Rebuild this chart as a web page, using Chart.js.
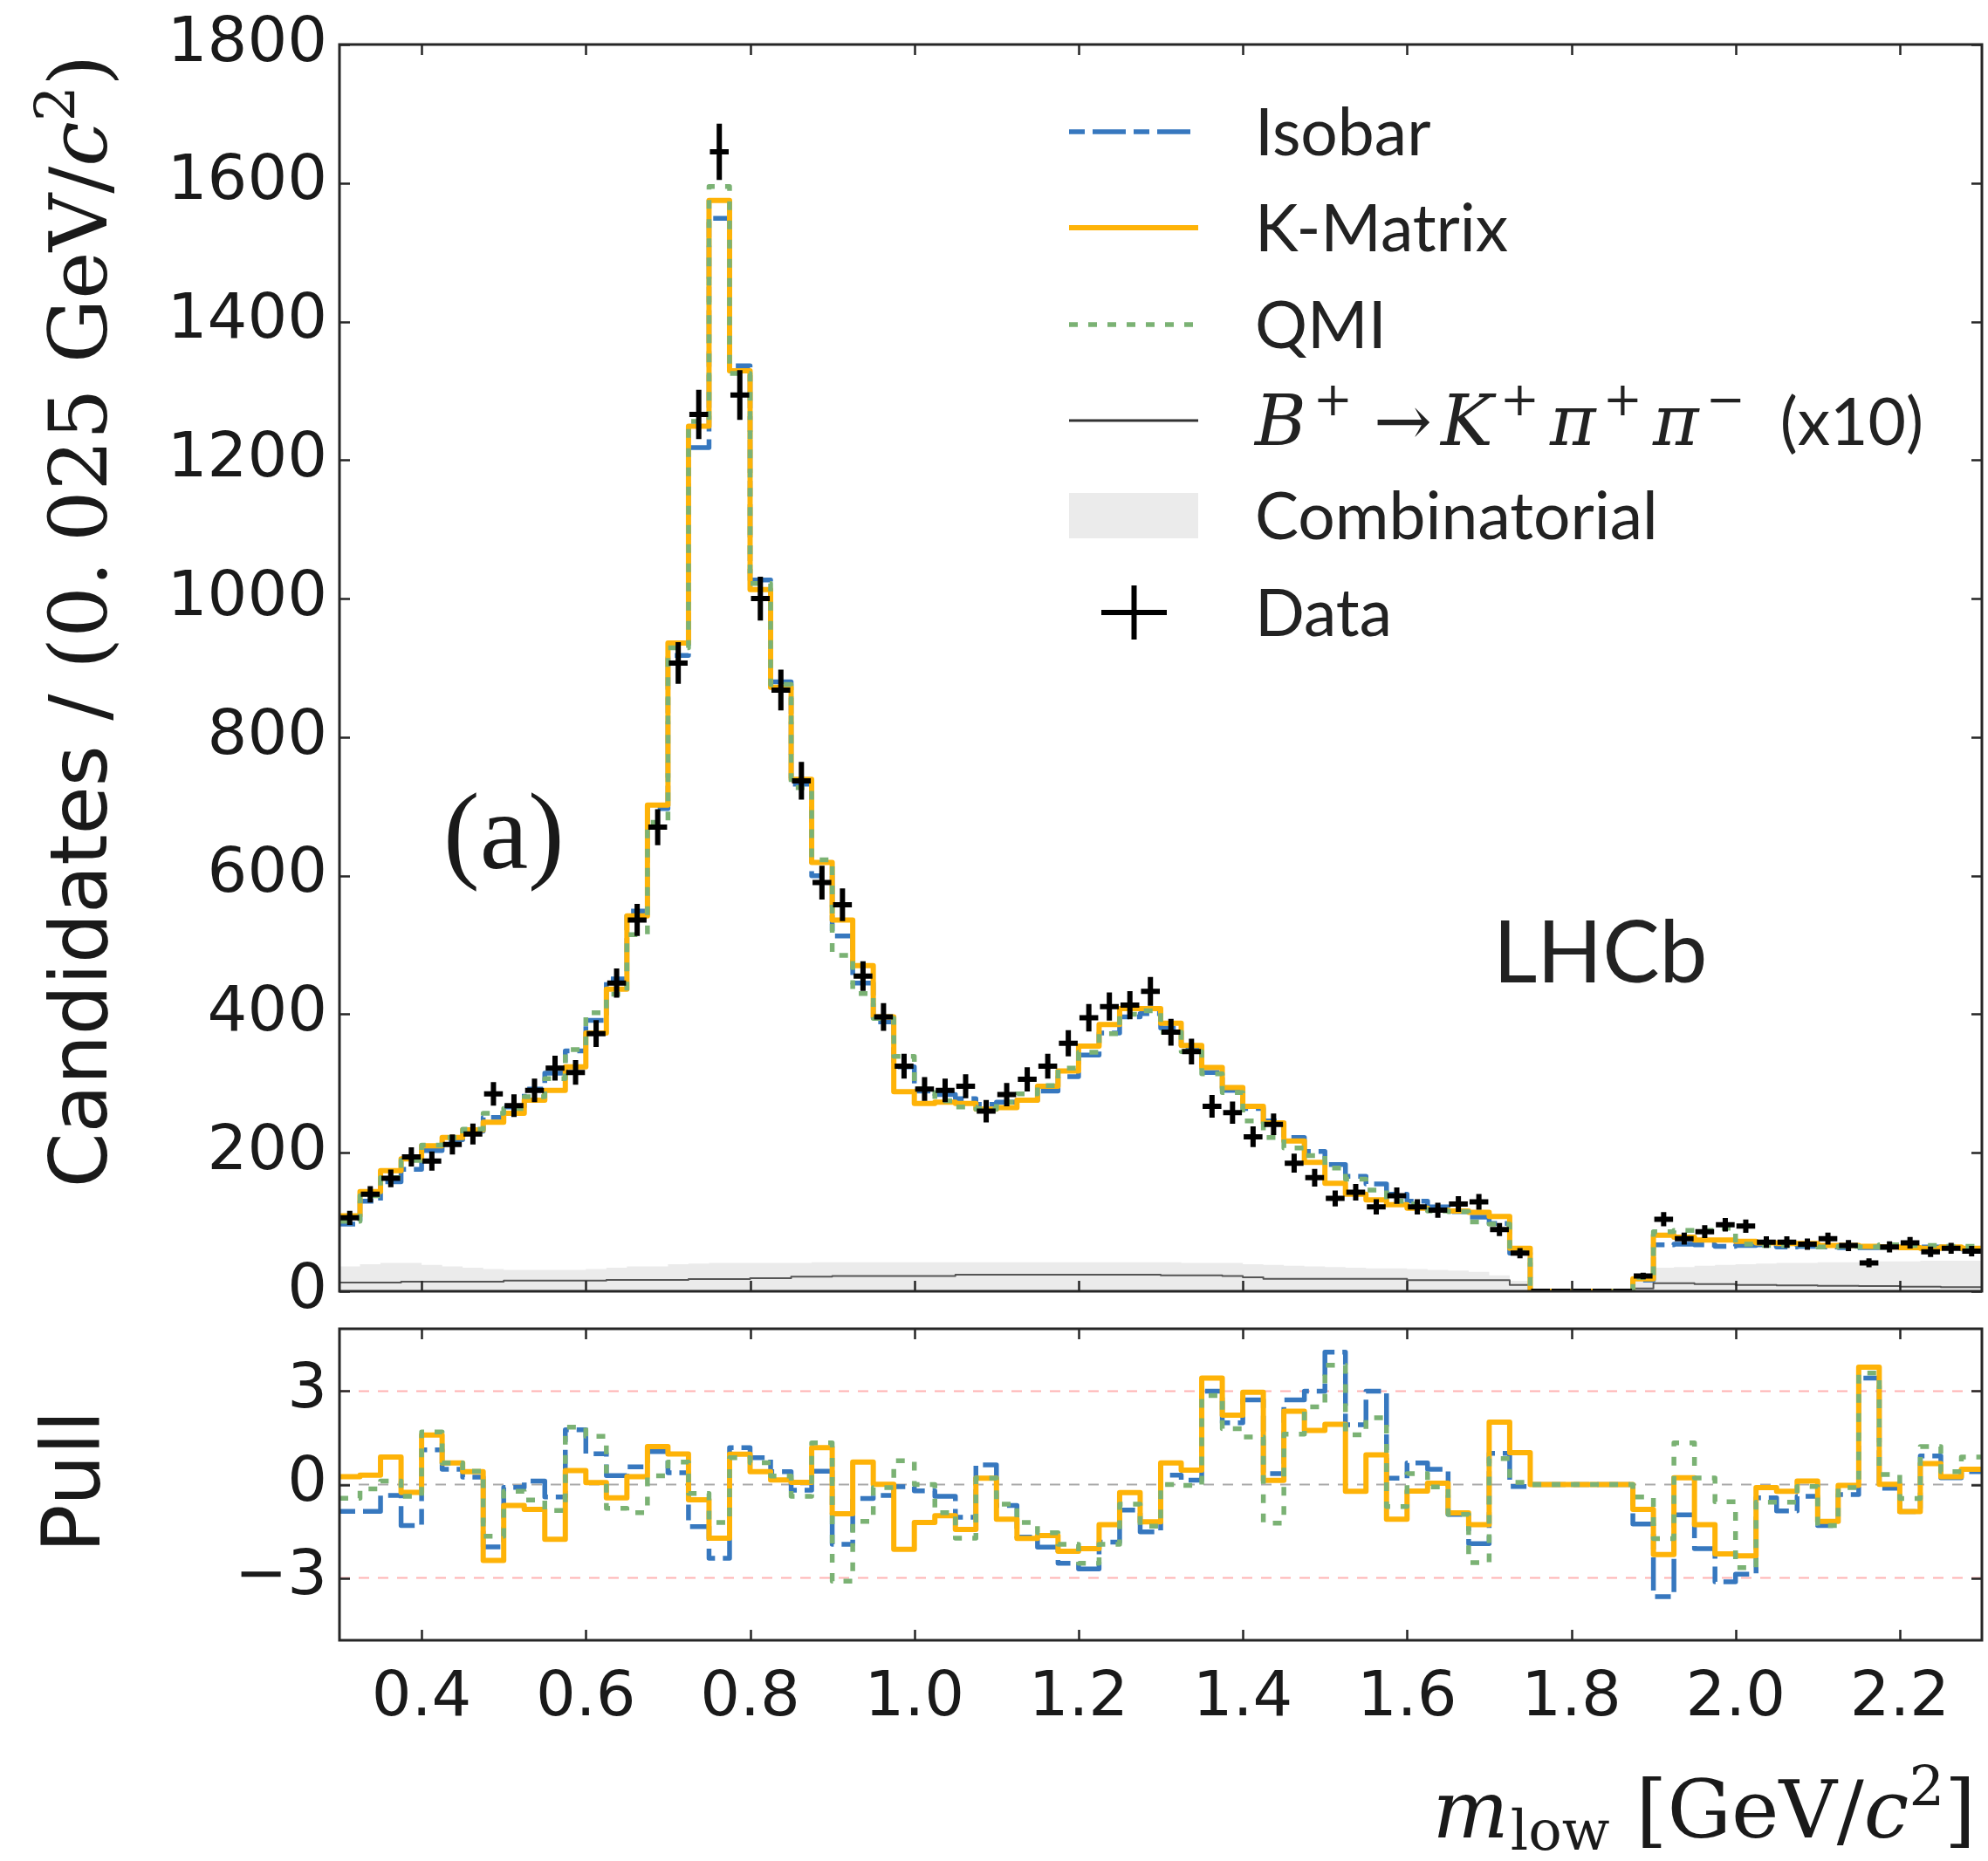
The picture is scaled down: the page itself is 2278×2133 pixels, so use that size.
<!DOCTYPE html>
<html>
<head>
<meta charset="utf-8">
<script src="https://cdn.jsdelivr.net/npm/chart.js@4.4.1/dist/chart.umd.min.js"></script>
<style>
  html, body { margin: 0; padding: 0; background: #fff; }
  #wrap { position: relative; width: 2278px; height: 2133px; }
  #mainChart { position: absolute; left: 0; top: 0; }
  #pullChart { position: absolute; left: 0; top: 1500px; }
</style>
</head>
<body>
<div id="wrap">
  <canvas id="mainChart" width="2278" height="1500"></canvas>
  <canvas id="pullChart" width="2278" height="633"></canvas>
</div>
<script>
(function () {
    'use strict';

    // binning of m_low
    var binLow = 0.3, binWidth = 0.025;

    var dataCounts = [106, 140, 163, 194, 188, 212, 227, 285, 268, 290,
        322, 316, 372, 445, 536, 670, 907, 1266, 1645, 1294,
        1000, 868, 737, 590, 558, 455, 396, 325, 292, 290,
        296, 260, 284, 306, 325, 358, 395, 411, 413, 433,
        374, 346, 267, 258, 223, 241, 185, 164, 134, 143,
        122, 138, 122, 117, 126, 129, 89, 55, 0, 0,
        0, 0, 0, 22, 104, 76, 86, 96, 94, 71,
        71, 68, 76, 66, 41, 64, 70, 57, 62, 58];

    var kmatrixModel = [109, 144, 174, 191, 210, 222, 233, 244, 257, 276,
        290, 324, 373, 436, 542, 702, 936, 1249, 1575, 1329,
        1013, 872, 739, 619, 536, 470, 396, 288, 271, 273,
        271, 263, 265, 276, 296, 318, 354, 385, 408, 408,
        387, 355, 323, 294, 267, 243, 217, 186, 156, 140,
        132, 125, 120, 117, 116, 114, 108, 62, 0, 0,
        0, 0, 0, 18, 81, 78, 74, 74, 72, 70,
        69, 69, 66, 66, 65, 64, 63, 62, 64, 62];

    var isobarModel = [97, 130, 158, 176, 203, 219, 231, 251, 266, 292,
        315, 347, 391, 451, 549, 697, 918, 1218, 1549, 1336,
        1027, 880, 732, 600, 513, 445, 389, 324, 289, 284,
        278, 270, 273, 276, 289, 310, 341, 373, 396, 401,
        380, 349, 316, 290, 264, 246, 222, 202, 183, 166,
        155, 140, 130, 122, 115, 107, 98, 55, 0, 0,
        0, 0, 0, 16, 67, 68, 67, 65, 66, 67,
        64, 65, 64, 63, 63, 63, 63, 64, 64, 61];

    var qmiModel = [101, 138, 164, 189, 211, 222, 234, 257, 264, 281,
        307, 349, 402, 429, 515, 677, 929, 1256, 1595, 1325,
        1022, 876, 727, 623, 485, 430, 394, 339, 292, 275,
        266, 263, 273, 285, 297, 322, 345, 372, 400, 405,
        374, 346, 314, 287, 246, 222, 207, 196, 178, 162,
        146, 130, 126, 116, 115, 100, 97, 56, 0, 0,
        0, 0, 0, 20, 86, 88, 88, 91, 68, 66,
        66, 67, 64, 65, 64, 67, 66, 66, 65, 65];

    // B+ -> K+ pi+ pi- background (x10)
    var bkkBackground = [12.5, 12.5, 12.5, 14, 14, 14, 14, 14, 15.5, 15.5,
        15.5, 15.5, 15.5, 16.5, 16.5, 16.5, 16.5, 17.5, 17.5, 17.5,
        19, 19, 21, 21, 22, 22, 22, 22, 22, 22,
        24, 24, 24, 24, 24, 24, 24, 24, 24, 24,
        23, 23, 23, 22, 20, 18, 18, 18, 18, 18,
        18, 18, 16, 16, 16, 16, 16, 9, 0, 0,
        0, 0, 0, 4, 11.7, 11.7, 10.5, 10.5, 9, 9,
        8.4, 8.4, 8, 8, 7.5, 7.5, 6.7, 6.7, 6, 6];

    var combinatorial = [36, 39, 41, 41, 38, 36, 34, 32, 31, 31,
        31, 31, 32, 34, 36, 36, 39, 40, 41, 41,
        41, 41, 41, 42, 42, 42, 42, 42, 42, 42,
        42, 42, 42, 42, 42, 42, 42, 42, 42, 42,
        42, 41, 41, 41, 39, 38, 37, 36, 35, 34,
        33, 33, 32, 31, 30, 28, 23, 15, 0, 0,
        0, 0, 0, 15, 34, 35, 37, 38, 39, 40,
        41, 41, 42, 42, 42, 43, 43, 44, 44, 44];

    var kmatrixPull = [0.25, 0.3, 0.88, -0.25, 1.59, 0.69, 0.41, -2.44, -0.67, -0.8,
        -1.76, 0.45, 0.06, -0.43, 0.25, 1.22, 0.98, -0.49, -1.72, 0.97,
        0.41, 0.15, 0.07, 1.18, -0.94, 0.72, 0.01, -2.08, -1.22, -1.0,
        -1.44, 0.2, -1.11, -1.73, -1.64, -2.14, -2.06, -1.29, -0.26, -1.2,
        0.69, 0.46, 3.42, 2.23, 2.96, 0.13, 2.35, 1.74, 1.93, -0.22,
        0.95, -1.11, -0.21, 0.04, -0.91, -1.29, 2.0, 1.02, 0, 0,
        0, 0, 0, -0.8, -2.25, 0.22, -1.29, -2.23, -2.29, -0.1,
        -0.22, 0.11, -1.18, -0.03, 3.77, 0.01, -0.87, 0.67, 0.25, 0.49];

    var isobarPull = [-0.86, -0.86, -0.35, -1.32, 1.11, 0.49, 0.24, -2.0, -0.09, 0.11,
        -0.4, 1.76, 0.99, 0.29, 0.57, 1.06, 0.38, -1.35, -2.37, 1.18,
        0.86, 0.41, -0.18, 0.43, -1.92, -0.45, -0.35, -0.07, -0.2, -0.38,
        -1.05, 0.63, -0.67, -1.69, -2.01, -2.53, -2.71, -1.85, -0.82, -1.52,
        0.3, 0.14, 3.0, 1.98, 2.72, 0.35, 2.72, 3.0, 4.25, 1.92,
        3.0, 0.2, 0.69, 0.49, -0.96, -1.9, 1.0, -0.06, 0, 0,
        0, 0, 0, -1.27, -3.6, -0.97, -2.06, -3.12, -2.88, -0.43,
        -0.85, -0.38, -1.32, -0.32, 3.42, -0.12, -0.87, 0.92, 0.22, 0.41];

    var qmiPull = [-0.44, -0.14, 0.11, -0.38, 1.69, 0.69, 0.43, -1.66, -0.22, -0.5,
        -0.83, 1.84, 1.55, -0.76, -0.9, 0.28, 0.72, -0.29, -1.22, 0.86,
        0.7, 0.27, -0.38, 1.34, -3.1, -1.18, -0.1, 0.76, 0.0, -0.9,
        -1.72, 0.2, -0.63, -1.22, -1.55, -1.92, -2.53, -1.92, -0.63, -1.34,
        0.0, -0.03, 2.86, 1.79, 1.53, -1.24, 1.62, 2.49, 3.83, 1.6,
        2.14, -0.71, 0.35, -0.08, -0.96, -2.51, 0.83, 0.07, 0, 0,
        0, 0, 0, -0.4, -1.74, 1.34, 0.21, -0.55, -2.67, -0.57,
        -0.57, -0.06, -1.32, -0.1, 3.58, 0.32, -0.45, 1.22, 0.41, 0.88];

    var xTicks = [0.4, 0.6, 0.8, 1.0, 1.2, 1.4, 1.6, 1.8, 2.0, 2.2];
    var yTicksMain = [0, 200, 400, 600, 800, 1000, 1200, 1400, 1600, 1800];
    var yTicksPull = [-3, 0, 3];
    var pullLimitLines = [-3, 3];

    var COLORS = {
        isobar: '#3778bf',
        kmatrix: '#feb308',
        qmi: '#7bb274',
        bkk: '#555555',
        comb: '#ebebeb',
        axis: '#262626'
    };
    var SANS = '"DejaVu Sans"';
    var SERIF = '"DejaVu Serif"';
    var LEG = 'Lato';

    var nBins = dataCounts.length;
    var xEdges = [];
    for (var i = 0; i <= nBins; i++) xEdges.push(+(binLow + i * binWidth).toFixed(4));

    function stepPoints(vals) {
        var pts = vals.map(function (v, k) { return { x: xEdges[k], y: v }; });
        pts.push({ x: xEdges[vals.length], y: vals[vals.length - 1] });
        return pts;
    }

    function lineSet(label, vals, color, width, dash, order) {
        return {
            label: label,
            data: stepPoints(vals),
            borderColor: color,
            borderWidth: width,
            borderDash: dash,
            borderJoinStyle: 'round',
            stepped: true,
            pointRadius: 0,
            fill: false,
            order: order
        };
    }

    // draw a sequence of text runs with different fonts on one baseline
    function drawRuns(ctx, x, y, runs) {
        var cx = x;
        runs.forEach(function (r) {
            ctx.font = r.font;
            ctx.fillText(r.text, cx, y + (r.dy || 0));
            cx += ctx.measureText(r.text).width + (r.gap || 0);
        });
        return cx - x;
    }
    function runsWidth(ctx, runs) {
        var w = 0;
        runs.forEach(function (r) {
            ctx.font = r.font;
            w += ctx.measureText(r.text).width + (r.gap || 0);
        });
        return w;
    }

    // frame round the plot area and inward tick marks on all four sides
    var frameTicksPlugin = {
        id: 'frameTicks',
        afterDraw: function (chart, args, opts) {
            var ctx = chart.ctx, a = chart.chartArea;
            var xs = chart.scales.x, ys = chart.scales.y;
            var len = 12;
            ctx.save();
            ctx.strokeStyle = COLORS.axis;
            ctx.lineWidth = 2.5;
            ctx.beginPath();
            opts.xTicks.forEach(function (v) {
                var px = Math.round(xs.getPixelForValue(v)) + 0.5;
                ctx.moveTo(px, a.bottom); ctx.lineTo(px, a.bottom - len);
                ctx.moveTo(px, a.top); ctx.lineTo(px, a.top + len);
            });
            opts.yTicks.forEach(function (v) {
                var py = Math.round(ys.getPixelForValue(v)) + 0.5;
                ctx.moveTo(a.left, py); ctx.lineTo(a.left + len, py);
                ctx.moveTo(a.right, py); ctx.lineTo(a.right - len, py);
            });
            ctx.stroke();
            ctx.lineWidth = 3;
            ctx.strokeRect(a.left, a.top, a.right - a.left, a.bottom - a.top);
            ctx.restore();
        }
    };

    var dataCrossPlugin = {
        id: 'dataCrosses',
        afterDatasetsDraw: function (chart) {
            var ctx = chart.ctx, a = chart.chartArea;
            var xs = chart.scales.x, ys = chart.scales.y;
            ctx.save();
            ctx.beginPath();
            ctx.rect(a.left, a.top - 40, a.right - a.left, a.bottom - a.top + 40);
            ctx.clip();
            ctx.strokeStyle = '#000';
            ctx.lineWidth = 6;
            ctx.lineCap = 'butt';
            dataCounts.forEach(function (n, k) {
                var lo = xEdges[k], hi = xEdges[k + 1];
                var err = Math.sqrt(n);
                var px = xs.getPixelForValue((lo + hi) / 2);
                var py = ys.getPixelForValue(n);
                ctx.beginPath();
                ctx.moveTo(xs.getPixelForValue(lo) + 1, py);
                ctx.lineTo(xs.getPixelForValue(hi) - 1, py);
                if (err > 0) {
                    ctx.moveTo(px, ys.getPixelForValue(n - err));
                    ctx.lineTo(px, ys.getPixelForValue(n + err));
                }
                ctx.stroke();
            });
            ctx.restore();
        }
    };

    var mainTextPlugin = {
        id: 'mainText',
        afterDraw: function (chart) {
            var ctx = chart.ctx;
            var byLabel = {};
            chart.data.datasets.forEach(function (d) { byLabel[d.label] = d; });
            ctx.save();
            ctx.fillStyle = '#1a1a1a';
            ctx.textBaseline = 'alphabetic';
            ctx.textAlign = 'left';

            // y title
            var yRuns = [
                { text: 'Candidates / ', font: '90px ' + SANS },
                { text: '(0.', font: '92px ' + SERIF, gap: 22 },
                { text: '025 GeV/', font: '92px ' + SERIF },
                { text: 'c', font: 'italic 92px ' + SERIF },
                { text: '2', font: '64px ' + SERIF, dy: -36 },
                { text: ')', font: '92px ' + SERIF }
            ];
            var wy = runsWidth(ctx, yRuns);
            ctx.save();
            ctx.translate(122, 712 + wy / 2);
            ctx.rotate(-Math.PI / 2);
            drawRuns(ctx, 0, 0, yRuns);
            ctx.restore();

            // (a) and LHCb labels
            ctx.font = '125px "Liberation Serif"';
            ctx.fillText('(a)', 508, 995);
            ctx.fillStyle = '#222222';
            ctx.font = '98px ' + LEG;
            ctx.fillText('LHCb', 1711, 1126);

            // legend
            var lx0 = 1225, lx1 = 1373, tx = 1438;
            var rows = [151, 261, 372, 482, 591, 702];
            var lineKeys = ['Isobar', 'K-Matrix', 'QMI', 'BKK'];
            ctx.lineCap = 'butt';
            lineKeys.forEach(function (key, k) {
                var d = byLabel[key];
                ctx.save();
                ctx.strokeStyle = key === 'BKK' ? '#333333' : d.borderColor;
                ctx.lineWidth = key === 'BKK' ? 3 : d.borderWidth;
                ctx.setLineDash(d.borderDash || []);
                ctx.beginPath();
                ctx.moveTo(lx0, rows[k]); ctx.lineTo(lx1, rows[k]);
                ctx.stroke();
                ctx.restore();
            });
            ctx.fillStyle = COLORS.comb;
            ctx.fillRect(lx0, rows[4] - 26, lx1 - lx0, 52);
            ctx.strokeStyle = '#000';
            ctx.lineWidth = 6;
            ctx.beginPath();
            ctx.moveTo(1262, rows[5]); ctx.lineTo(1337, rows[5]);
            ctx.moveTo(1299.5, rows[5] - 31); ctx.lineTo(1299.5, rows[5] + 31);
            ctx.stroke();

            ctx.fillStyle = '#222222';
            var lf = '75px ' + LEG;
            ctx.font = lf;
            ctx.fillText('Isobar', tx, rows[0] + 27);
            ctx.fillText('K-Matrix', tx, rows[1] + 27);
            ctx.fillText('QMI', tx, rows[2] + 27);
            ctx.fillText('Combinatorial', tx, rows[4] + 27);
            ctx.fillText('Data', tx, rows[5] + 27);
            var mi = 'italic 80px ' + SERIF, sup = '54px ' + SERIF, rm = '80px ' + SERIF;
            drawRuns(ctx, tx, rows[3] + 28, [
                { text: 'B', font: mi, gap: 8 },
                { text: '+', font: sup, dy: -34, gap: 24 },
                { text: '\u2192', font: rm, gap: 10 },
                { text: 'K', font: mi, gap: 8 },
                { text: '+', font: sup, dy: -34, gap: 12 },
                { text: '\u03c0', font: mi, gap: 8 },
                { text: '+', font: sup, dy: -34, gap: 12 },
                { text: '\u03c0', font: mi, gap: 8 },
                { text: '\u2212', font: sup, dy: -34, gap: 40 },
                { text: '(x10)', font: lf }
            ]);
            ctx.restore();
        }
    };

    var pullTextPlugin = {
        id: 'pullText',
        beforeDatasetsDraw: function (chart) {
            var ctx = chart.ctx, a = chart.chartArea, ys = chart.scales.y;
            ctx.save();
            ctx.lineWidth = 2;
            ctx.setLineDash([12, 10]);
            ctx.strokeStyle = '#ffb3b3';
            ctx.beginPath();
            pullLimitLines.forEach(function (v) {
                var py = ys.getPixelForValue(v);
                ctx.moveTo(a.left, py); ctx.lineTo(a.right, py);
            });
            ctx.stroke();
            ctx.strokeStyle = '#aaaaaa';
            ctx.beginPath();
            var p0 = ys.getPixelForValue(0);
            ctx.moveTo(a.left, p0); ctx.lineTo(a.right, p0);
            ctx.stroke();
            ctx.restore();
        },
        afterDraw: function (chart) {
            var ctx = chart.ctx;
            ctx.save();
            ctx.fillStyle = '#1a1a1a';
            ctx.textBaseline = 'alphabetic';
            ctx.textAlign = 'center';
            ctx.save();
            ctx.translate(114, 198);
            ctx.rotate(-Math.PI / 2);
            ctx.font = '92px ' + SANS;
            ctx.fillText('Pull', 0, 0);
            ctx.restore();

            ctx.textAlign = 'left';
            var big = '92px ' + SERIF;
            var xRuns = [
                { text: 'm', font: 'italic ' + big, gap: 2 },
                { text: 'low', font: '64px ' + SERIF, dy: 14, gap: 30 },
                { text: '[GeV/', font: big },
                { text: 'c', font: 'italic ' + big },
                { text: '2', font: '64px ' + SERIF, dy: -36 },
                { text: ']', font: big }
            ];
            var wx = runsWidth(ctx, xRuns);
            drawRuns(ctx, 2264 - wx, 606, xRuns);
            ctx.restore();
        }
    };

    // fixed axis sizes so both panels share the same plot area edges
    function fixYAxis(scale) {
        scale.width = 389;
        scale.paddingTop = 0;
        scale.paddingBottom = 0;
    }
    function fixXAxis(scale) {
        scale.height = 253;
        scale.paddingLeft = 0;
        scale.paddingRight = 0;
    }

    new Chart(document.getElementById('mainChart'), {
        type: 'line',
        data: {
            datasets: [
                lineSet('QMI', qmiModel, COLORS.qmi, 5.5, [10, 12], 1),
                lineSet('K-Matrix', kmatrixModel, COLORS.kmatrix, 6, [], 2),
                lineSet('Isobar', isobarModel, COLORS.isobar, 5.5, [18, 9, 38, 9], 3),
                lineSet('BKK', bkkBackground, COLORS.bkk, 2, [], 4),
                {
                    label: 'Combinatorial',
                    data: stepPoints(combinatorial),
                    borderWidth: 0,
                    backgroundColor: COLORS.comb,
                    stepped: true,
                    pointRadius: 0,
                    fill: 'origin',
                    order: 5
                }
            ]
        },
        options: {
            responsive: false,
            maintainAspectRatio: false,
            devicePixelRatio: 1,
            animation: false,
            layout: { padding: { left: 0, right: 7, top: 51, bottom: 20 } },
            scales: {
                x: { type: 'linear', min: 0.3, max: 2.3, display: false },
                y: {
                    type: 'linear', min: 0, max: 1800,
                    afterBuildTicks: function (s) { s.ticks = yTicksMain.map(function (v) { return { value: v }; }); },
                    afterFit: fixYAxis,
                    grid: { display: false, drawTicks: false },
                    border: { display: false },
                    ticks: {
                        font: { family: 'DejaVu Sans', size: 72 },
                        color: '#1a1a1a',
                        padding: 14,
                        callback: function (v) { return String(v); }
                    }
                }
            },
            plugins: {
                legend: { display: false },
                tooltip: { enabled: false },
                frameTicks: { xTicks: xTicks, yTicks: yTicksMain }
            }
        },
        plugins: [dataCrossPlugin, frameTicksPlugin, mainTextPlugin]
    });

    new Chart(document.getElementById('pullChart'), {
        type: 'line',
        data: {
            datasets: [
                lineSet('QMI', qmiPull, COLORS.qmi, 5.5, [10, 12], 1),
                lineSet('K-Matrix', kmatrixPull, COLORS.kmatrix, 6, [], 2),
                lineSet('Isobar', isobarPull, COLORS.isobar, 5.5, [18, 9, 38, 9], 3)
            ]
        },
        options: {
            responsive: false,
            maintainAspectRatio: false,
            devicePixelRatio: 1,
            animation: false,
            layout: { padding: { left: 0, right: 7, top: 23, bottom: 0 } },
            scales: {
                x: {
                    type: 'linear', min: 0.3, max: 2.3,
                    afterBuildTicks: function (s) { s.ticks = xTicks.map(function (v) { return { value: v }; }); },
                    afterFit: fixXAxis,
                    grid: { display: false, drawTicks: false },
                    border: { display: false },
                    ticks: {
                        font: { family: 'DejaVu Sans', size: 72 },
                        color: '#1a1a1a',
                        padding: 24,
                        maxRotation: 0,
                        autoSkip: false,
                        callback: function (v) { return Number(v).toFixed(1); }
                    }
                },
                y: {
                    type: 'linear', min: -5, max: 5,
                    afterBuildTicks: function (s) { s.ticks = yTicksPull.map(function (v) { return { value: v }; }); },
                    afterFit: fixYAxis,
                    grid: { display: false, drawTicks: false },
                    border: { display: false },
                    ticks: {
                        font: { family: 'DejaVu Sans', size: 72 },
                        color: '#1a1a1a',
                        padding: 14,
                        callback: function (v) { return v < 0 ? '\u2212' + Math.abs(v) : String(v); }
                    }
                }
            },
            plugins: {
                legend: { display: false },
                tooltip: { enabled: false },
                frameTicks: { xTicks: xTicks, yTicks: yTicksPull }
            }
        },
        plugins: [frameTicksPlugin, pullTextPlugin]
    });
})();
</script>
</body>
</html>
